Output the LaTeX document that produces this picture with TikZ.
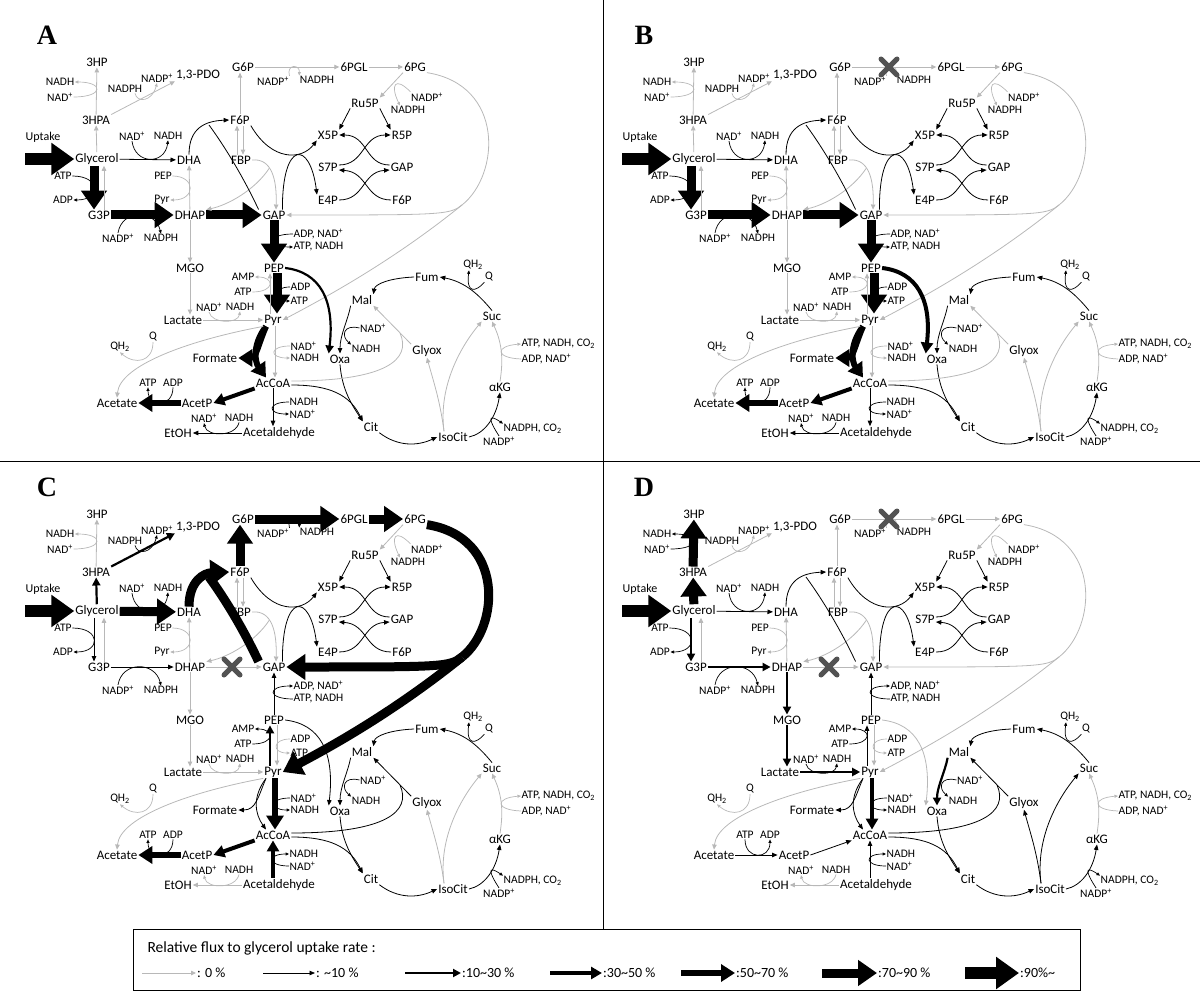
\documentclass[tikz,border=0pt]{standalone}
\usepackage{fontspec}
\setmainfont{Carlito}
\newfontfamily\panelfont{Liberation Serif}
\usetikzlibrary{arrows.meta,shapes.misc}

\tikzset{
  met/.style={font=\fontsize{13}{15}\selectfont, inner sep=1pt},
  co/.style={font=\fontsize{11.5}{12}\selectfont, inner sep=0.5pt},
  tag/.style={font=\panelfont\bfseries\fontsize{28}{30}\selectfont},
  % flux classes: 0 %, ~10 %, 10~30 %, 30~50 %, 50~70 %, 70~90 %, 90 %~
  f0/.style={draw=black!28, line width=0.8pt, >={Triangle[length=5pt,width=4.5pt]}, ->},
  f1/.style={draw=black, line width=0.8pt, >={Triangle[length=5.5pt,width=4.5pt]}, ->},
  f2/.style={draw=black, line width=2.2pt, >={Triangle[length=8pt,width=8pt]}, ->},
  f3/.style={draw=black, line width=4pt, >={Triangle[length=11pt,width=12pt]}, ->},
  f4/.style={draw=black, line width=6pt, >={Triangle[length=14pt,width=17pt]}, ->},
  f5/.style={draw=black, line width=9pt, >={Triangle[length=19pt,width=25pt]}, ->},
  f6/.style={draw=black, line width=12pt, >={Triangle[length=23pt,width=31pt]}, ->},
  % cofactor curves
  c0/.style={draw=black!28, line width=0.7pt, >={Triangle[length=3.5pt,width=3pt]}, ->},
  c1/.style={c0, draw=black},
  flux/.style 2 args={r-#1/.style={#2}, c-#1/.style={c1}},
  revflux/.style 2 args={r-#1/.style={#2,<-}, c-#1/.style={c1,<-}},
  xmark/.style={cross out, draw=black!68, line width=5pt, line cap=round, minimum size=11pt, inner sep=0pt},
  % fluxes of each panel
  panel A/.style={flux={dha}{f1}, flux={g3p}{f5}, flux={dhap}{f5}, flux={tpi}{f5},
    flux={gapdh}{f5}, flux={pyk}{f5}, flux={ppc}{f2}, flux={pfl}{f4}, flux={pta}{f3},
    flux={ackA}{f4}, flux={adh1}{f1}, flux={adh2}{f1}, flux={fsa}{f1}, flux={mdh}{f1}},
  panel B/.style={panel A, flux={ppc}{f3}},
  panel C/.style={flux={hpa}{f2}, flux={pdo}{f2}, flux={dha}{f5}, flux={g3p}{f1},
    flux={dhap}{f1}, flux={fsa}{f5}, flux={pgi}{f5}, flux={zwf}{f5}, flux={pgl}{f5},
    flux={edd}{f5}, revflux={gapdh}{f1}, flux={pps}{f2}, flux={ppc}{f1}, flux={pfl}{f1},
    flux={pdh}{f4}, flux={pta}{f3}, flux={ackA}{f4}, revflux={adh1}{f3}, flux={mdh}{f1},
    flux={aceB}{f1}},
  panel D/.style={flux={hpa}{f5}, flux={hp}{f5}, flux={dha}{f1}, flux={g3p}{f2},
    flux={dhap}{f2}, flux={mgo}{f2}, flux={lac}{f2}, flux={ldh}{f2}, flux={fsa}{f1},
    revflux={gapdh}{f1}, flux={pps}{f1}, flux={pfl}{f1}, flux={pdh}{f3}, revflux={pta}{f1},
    revflux={ackA}{f1}, revflux={adh1}{f1}, flux={mdh}{f2}, flux={aceA}{f1}, flux={aceB}{f1}},
}

% the whole network, drawn once per panel
\newcommand\pathway[1]{%
  \node[tag] (tag) at (47,35) {#1};
  % metabolites
  \node[met] (hp) at (97,62) {3HP};
  \node[met] (pdo) at (198,75) {1,3-PDO};
  \node[met] (g6p) at (243,67) {G6P};
  \node[met] (pgl) at (354,67) {6PGL};
  \node[met] (pg) at (415,67) {6PG};
  \node[met] (hpa) at (96,120) {3HPA};
  \node[met] (f6p) at (240,120) {F6P};
  \node[met] (ru5p) at (365,103) {Ru5P};
  \node[met] (x5p) at (328,135) {X5P};
  \node[met] (r5p) at (402,135) {R5P};
  \node[met] (gly) at (97,159) {Glycerol};
  \node[met] (dha) at (189,160) {DHA};
  \node[met] (fbp) at (241,160) {FBP};
  \node[met] (s7p) at (328,167) {S7P};
  \node[met] (gapb) at (402,167) {GAP};
  \node[met] (e4p) at (328,200) {E4P};
  \node[met] (f6pb) at (402,200) {F6P};
  \node[met] (g3p) at (99,215) {G3P};
  \node[met] (dhap) at (190,215) {DHAP};
  \node[met] (gap) at (274,215) {GAP};
  \node[met] (mgo) at (190,268) {MGO};
  \node[met] (pep) at (274,268) {PEP};
  \node[met] (fum) at (427,277) {Fum};
  \node[met] (mal) at (362,300) {Mal};
  \node[met] (suc) at (492,316) {Suc};
  \node[met] (lac) at (183,320) {Lactate};
  \node[met] (pyr) at (273,320) {Pyr};
  \node[met] (for) at (215,358) {Formate};
  \node[met] (oxa) at (340,359) {Oxa};
  \node[met] (glx) at (427,351) {Glyox};
  \node[met] (accoa) at (273,383) {AcCoA};
  \node[met] (akg) at (500,387) {αKG};
  \node[met] (ace) at (117,403) {Acetate};
  \node[met] (acp) at (197,403) {AcetP};
  \node[met] (etoh) at (178,433) {EtOH};
  \node[met] (ald) at (279,433) {Acetaldehyde};
  \node[met] (cit) at (371,427) {Cit};
  \node[met] (icit) at (453,437) {IsoCit};
  \node[font=\fontsize{12}{13}\selectfont] (upt) at (43,137) {Uptake};
  % cofactors
  \node[co] (hp2) at (60,82) {NADH};
  \node[co] (hp1) at (60,97) {NAD\textsuperscript{+}};
  \node[co] (pdo1) at (125,89) {NADPH};
  \node[co] (pdo2) at (157,78) {NADP\textsuperscript{+}};
  \node[co] (zwf1) at (273,81) {NADP\textsuperscript{+}};
  \node[co] (zwf2) at (317,80) {NADPH};
  \node[co] (gnd1) at (427,97) {NADP\textsuperscript{+}};
  \node[co] (gnd2) at (408,110) {NADPH};
  \node[co] (dha1) at (132,136) {NAD\textsuperscript{+}};
  \node[co] (dha2) at (168,136) {NADH};
  \node[co] (g3p1) at (63,176) {ATP};
  \node[co] (g3p2) at (63,200) {ADP};
  \node[co] (dhak1) at (163,176) {PEP};
  \node[co] (dhak2) at (162,200) {Pyr};
  \node[co] (dhap1) at (118,238) {NADP\textsuperscript{+}};
  \node[co] (dhap2) at (161,238) {NADPH};
  \node[co, anchor=west] (gapdh1) at (293,234) {ADP, NAD\textsuperscript{+}};
  \node[co, anchor=west] (gapdh2) at (293,247) {ATP, NADH};
  \node[co] (pps2) at (243,277) {AMP};
  \node[co] (pps1) at (243,292) {ATP};
  \node[co, anchor=west] (pyk1) at (290,287) {ADP};
  \node[co, anchor=west] (pyk2) at (290,301) {ATP};
  \node[co] (ldh1) at (209,307) {NAD\textsuperscript{+}};
  \node[co] (ldh2) at (240,307) {NADH};
  \node[co] (poxb1) at (153,337) {Q};
  \node[co] (poxb2) at (120,347) {QH\textsubscript{2}};
  \node[co, anchor=west] (pdh1) at (290,346) {NAD\textsuperscript{+}};
  \node[co, anchor=west] (pdh2) at (290,358) {NADH};
  \node[co] (acka2) at (148,383) {ATP};
  \node[co] (acka1) at (173,383) {ADP};
  \node[co, anchor=west] (adh1a) at (289,402) {NADH};
  \node[co, anchor=west] (adh1b) at (289,414) {NAD\textsuperscript{+}};
  \node[co] (adh2b) at (204,418) {NAD\textsuperscript{+}};
  \node[co] (adh2a) at (239,418) {NADH};
  \node[co] (mdh1) at (373,328) {NAD\textsuperscript{+}};
  \node[co] (mdh2) at (366,349) {NADH};
  \node[co] (sdh2) at (473,265) {QH\textsubscript{2}};
  \node[co] (sdh1) at (489,277) {Q};
  \node[co, anchor=west] (sucA2) at (521,344) {ATP, NADH, CO\textsubscript{2}};
  \node[co, anchor=west] (sucA1) at (521,359) {ADP, NAD\textsuperscript{+}};
  \node[co] (icd1) at (499,441) {NADP\textsuperscript{+}};
  \node[co, anchor=west] (icd2) at (503,429) {NADPH, CO\textsubscript{2}};
  % glycerol branch
  \coordinate (upt0) at (25,159);
  \draw[f6] (upt0) -- (gly);
  \draw[f0, r-hpa/.try] (gly) -- (hpa);
  \draw[f0, r-hp/.try] (hpa) -- (hp);
  \draw[c0, c-hp/.try] (hp1.east) .. controls (104,97) and (104,82) .. (hp2.east);
  \draw[f0, r-pdo/.try] (hpa.north east) -- (pdo.south west);
  \draw[c0, c-pdo/.try] ([xshift=10pt]pdo1.south) .. controls (137,103) and (152,102) .. (pdo2.south);
  \draw[f0, r-dha/.try] (gly) -- (dha);
  \draw[c0, c-dha/.try] (dha1.south) .. controls (135,165) and (165,165) .. (dha2.south);
  \draw[f0, r-g3p/.try] ([xshift=-3pt]gly.south) -- ([xshift=-5pt]g3p.north);
  \draw[c0, c-g3p/.try] (g3p1.east) .. controls (101,176) and (101,200) .. (g3p2.east);
  \draw[f0] ([xshift=5pt]g3p.north) -- ([xshift=7pt]gly.south);
  \draw[f0] (dhap) -- (dha);
  \draw[c0] (dhak1.east) .. controls (196,176) and (196,200) .. (dhak2.east);
  \draw[f0, r-dhap/.try] (g3p) -- (dhap);
  \draw[c0, c-dhap/.try] (dhap1.north) .. controls (122,209) and (155,209) .. (dhap2.north);
  \draw[f0, r-tpi/.try] (dhap) -- (gap);
  \coordinate (xtpi) at (232,215);
  \draw[f0, r-mgo/.try] (dhap) -- (mgo);
  \draw[f0, r-lac/.try] (mgo.south) -- (mgo.south |- lac.north);
  \draw[f0, r-ldh/.try] (lac) -- (pyr);
  \draw[c0, c-ldh/.try] (ldh1.south) .. controls (212,324) and (238,324) .. (ldh2.south);
  % upper glycolysis and F6P aldolase
  \draw[f0] ([xshift=3pt]f6p.south) -- ([xshift=2pt]fbp.north);
  \draw[f0] ([xshift=-4pt]fbp.north) -- ([xshift=-3pt]f6p.south);
  \draw[f0] (fbp.east) .. controls (272,158) and (277,180) .. ([xshift=2pt]gap.north)
    coordinate[pos=0.4] (fbaj);
  \draw[f0] (fbaj) .. controls (255,190) and (228,205) .. (dhap.north east);
  \draw[f0, r-fsa/.try] (dha.north) .. controls (189,128) and (205,121) .. (f6p.west);
  \draw[f0, r-fsa/.try, -] ([xshift=-3pt]gap.north west) .. controls (240,170) and (220,140) .. (209,125);
  \draw[f0, r-pgi/.try] (f6p.north) -- (f6p.north |- g6p.south);
  % pentose phosphates
  \draw[f0, r-zwf/.try] (g6p) -- (pgl);
  \coordinate (xzwf) at (292,67);
  \draw[c0, c-zwf/.try] (zwf1.north east) .. controls (286,64) and (300,64) .. (zwf2.north west);
  \draw[f0, r-pgl/.try] (pgl) -- (pg);
  \draw[f0] (pg.south west) -- (ru5p.north east);
  \draw[c0] (gnd1.north west) .. controls (395,76) and (390,85) .. ([xshift=-8pt]gnd2.north);
  \draw[f1] (ru5p.south west) -- (x5p.north east);
  \draw[f1] (ru5p.south east) -- (r5p.north west);
  \draw[f1] (f6p.south east) .. controls (272,162) and (302,160) .. (x5p.south west);
  \draw[f1] ([xshift=-4pt]gap.north east) .. controls (282,140) and (310,140) .. (e4p.north west);
  \draw[f1] ([yshift=2pt]s7p.east) .. controls (365,165) and (362,135) .. (r5p.west);
  \draw[f1] ([yshift=2pt]gapb.west) .. controls (365,165) and (368,135) .. (x5p.east);
  \draw[f1] (e4p.east) .. controls (365,200) and (362,172) .. ([yshift=-3pt]gapb.west);
  \draw[f1] (f6pb.west) .. controls (365,200) and (368,172) .. ([yshift=-3pt]s7p.east);
  % Entner-Doudoroff
  \coordinate (edj) at (462,205);
  \draw[f0, r-edd/.try, -] (pg.south east) .. controls (505,85) and (500,175) .. (edj);
  \draw[f0, r-edd/.try] (edj) .. controls (450,215) and (440,215) .. (gap.east);
  \draw[f0, r-edd/.try] (edj) .. controls (400,255) and (340,290) .. (pyr.east);
  % lower glycolysis
  \draw[f0, r-gapdh/.try] (gap) -- (pep);
  \draw[c0, c-gapdh/.try] (gapdh1.west) .. controls (267,234) and (267,247) .. (gapdh2.west);
  \draw[f0, r-pyk/.try] ([xshift=3pt]pep.south) -- ([xshift=4pt]pyr.north);
  \draw[c0, c-pyk/.try] (pyk1.west) .. controls (272,287) and (272,301) .. (pyk2.west);
  \draw[f0, r-pps/.try] ([xshift=-3pt]pyr.north) -- ([xshift=-4pt]pep.south);
  \draw[c0, c-pps/.try] (pps1.east) .. controls (275,292) and (275,277) .. (pps2.east);
  \draw[f0, r-ppc/.try] (pep.east) .. controls (320,272) and (335,300) .. (oxa.north west);
  % pyruvate to acetate and ethanol
  \draw[f0, r-pfl/.try] ([xshift=-7pt]pyr.south) .. controls (252,345) and (255,362) .. ([xshift=-7pt]accoa.north);
  \draw[f0, r-pfl/.try] ([xshift=-7pt]pyr.south) .. controls (258,345) and (256,358) .. (for.east);
  \draw[f0, r-pdh/.try] ([xshift=2pt]pyr.south) -- ([xshift=2pt]accoa.north);
  \draw[c0, c-pdh/.try] (pdh1.west) .. controls (269,346) and (269,358) .. (pdh2.west);
  \draw[f0] (pyr.south west) .. controls (190,340) and (120,365) .. (ace.north);
  \draw[c0] (poxb1.south) .. controls (153,362) and (135,365) .. (poxb2.south);
  \draw[f0, r-pta/.try] (accoa.south west) -- (acp.east);
  \draw[f0, r-ackA/.try] (acp) -- (ace);
  \draw[c0, c-ackA/.try] (acka1.south) .. controls (173,408) and (148,408) .. (acka2.south);
  \draw[f0, r-adh1/.try] (accoa.south) -- (accoa.south |- ald.north);
  \draw[c0, c-adh1/.try] (adh1a.west) .. controls (267,402) and (267,414) .. (adh1b.west);
  \draw[f0, r-adh2/.try] (ald) -- (etoh);
  \draw[c0, c-adh2/.try] (adh2a.south) .. controls (236,437) and (207,437) .. (adh2b.south);
  % TCA cycle and glyoxylate shunt
  \draw[f1] (oxa.south) .. controls (342,390) and (352,405) .. (cit.north west);
  \draw[f1] ([yshift=-2pt]accoa.east) .. controls (330,385) and (350,395) .. (cit.north west);
  \draw[f1] (cit.south east) .. controls (398,447) and (418,446) .. (icit.west);
  \draw[f1] (icit.east) .. controls (484,434) and (496,418) .. (akg.south);
  \draw[c1] (icd1.north) .. controls (490,422) and (486,412) .. (icd2.north west);
  \draw[f0] (akg.north) .. controls (503,362) and (503,345) .. (suc.south);
  \draw[c0] (sucA1.west) .. controls (495,358) and (495,346) .. (sucA2.west);
  \draw[f1] (suc.north) .. controls (480,296) and (466,282) .. (fum.east);
  \draw[c1] (sdh1.south west) .. controls (476,292) and (466,294) .. ([xshift=-4pt]sdh2.south);
  \draw[f1] (fum.west) .. controls (390,278) and (375,284) .. (mal.north east);
  \draw[f0, r-mdh/.try] (mal.south west) .. controls (348,320) and (340,335) .. (oxa.north);
  \draw[c0, c-mdh/.try] (mdh1.west) .. controls (343,324) and (341,336) .. (mdh2.north west);
  \draw[f0, r-aceA/.try] ([xshift=-9pt]icit.north) .. controls (440,400) and (433,380) .. (glx.south);
  \draw[f0, r-aceA/.try] ([xshift=-9pt]icit.north) .. controls (438,385) and (462,345) .. (suc.south west);
  \coordinate (acebj) at (400,333);
  \draw[f0, r-aceB/.try] (glx.north west) -- (mal.south east);
  \draw[f0, r-aceB/.try, -] ([yshift=2pt]accoa.east) .. controls (385,381) and (412,360) .. (acebj);
}

\begin{document}
\begin{tikzpicture}[x=1pt, y=-1pt]
  \useasboundingbox (0,0) rectangle (1200,992);

  \begin{scope}[name prefix=A-, panel A]
    \pathway{A}
  \end{scope}
  \begin{scope}[shift={(597,0)}, name prefix=B-, panel B]
    \pathway{B}
    \node[xmark] (xb1) at (xzwf) {};
  \end{scope}
  \begin{scope}[shift={(0,452)}, name prefix=C-, panel C]
    \pathway{C}
    \node[xmark] (xc1) at (xtpi) {};
  \end{scope}
  \begin{scope}[shift={(597,452)}, name prefix=D-, panel D]
    \pathway{D}
    \node[xmark] (xd1) at (xzwf) {};
    \node[xmark] (xd2) at (xtpi) {};
  \end{scope}

  % panel borders
  \draw[line width=0.8pt] (603,0) -- (603,929);
  \draw[line width=0.8pt] (0,461) -- (1200,461);

  % legend
  \draw[line width=0.8pt] (133,929) rectangle (1080,990);
  \node[anchor=west, font=\fontsize{15.5}{17}\selectfont] (ltitle) at (144,948) {Relative flux to glycerol uptake rate :};
  \foreach \st/\xa/\xb/\txt [count=\i] in {f0/142/196/{: 0 \%}, f1/263/315/{: \textasciitilde10 \%},
      f2/405/461/{:10\textasciitilde30 \%}, f3/550/602/{:30\textasciitilde50 \%},
      f4/681/735/{:50\textasciitilde70 \%}, f5/822/877/{:70\textasciitilde90 \%},
      f6/965/1019/{:90\%\textasciitilde}} {
    \coordinate (ks\i) at (\xa,973);
    \node[anchor=west, inner sep=1pt, font=\fontsize{14}{15}\selectfont] (kt\i) at (\xb,973) {\txt};
    \draw[\st] (ks\i) -- (kt\i);
  }
\end{tikzpicture}
\end{document}
